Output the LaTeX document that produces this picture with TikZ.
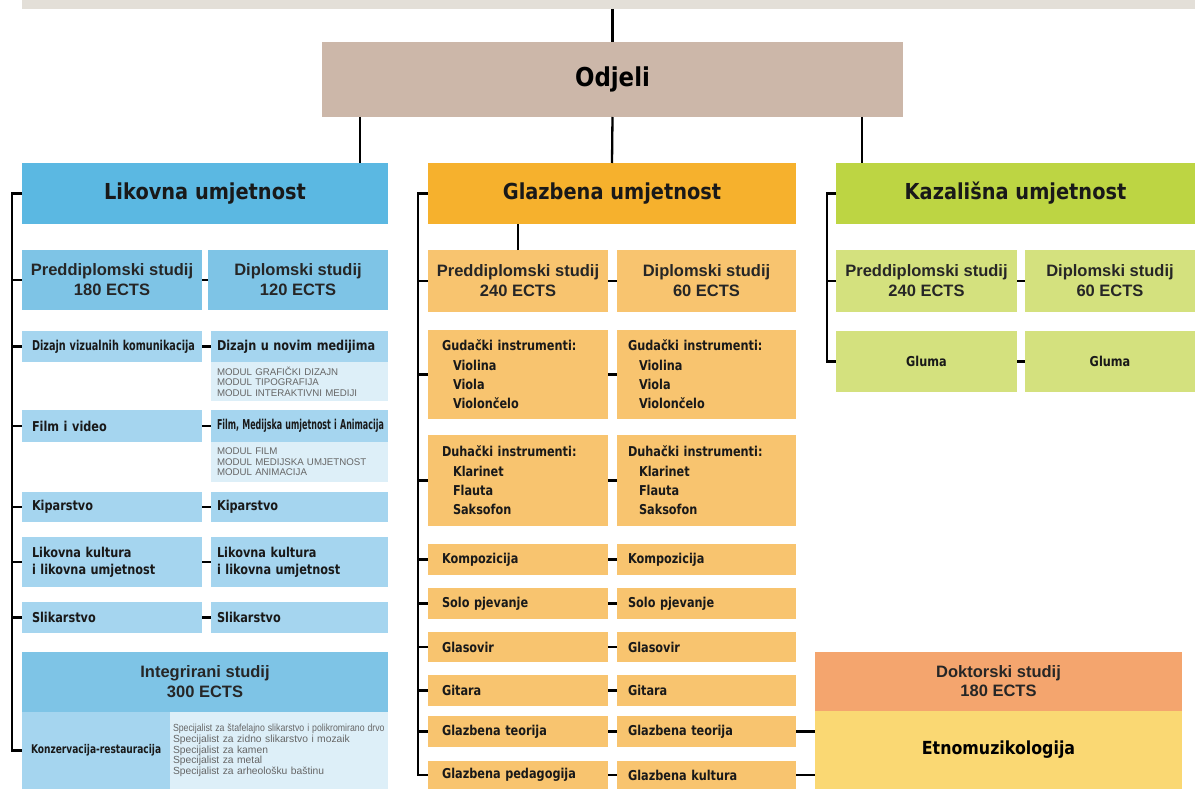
\documentclass[tikz,border=0pt]{standalone}
\usepackage{graphicx}
\usepackage{fontspec}
\setmainfont{Liberation Sans}
\newfontfamily\tah[FakeStretch=0.88]{DejaVu Sans}
\newfontfamily\tahn[FakeStretch=0.83]{DejaVu Sans}
\usetikzlibrary{calc}

\definecolor{topbar}{HTML}{E3DFD8}
\definecolor{odj}{HTML}{CCB7A9}
\definecolor{lhd}{HTML}{5BB8E2}
\definecolor{lsub}{HTML}{7EC4E6}
\definecolor{lrow}{HTML}{A5D5EF}
\definecolor{lmod}{HTML}{DDEFF8}
\definecolor{ghd}{HTML}{F6B12D}
\definecolor{gsub}{HTML}{F8C46F}
\definecolor{khd}{HTML}{BDD543}
\definecolor{ksub}{HTML}{D4E17E}
\definecolor{dok}{HTML}{F4A56E}
\definecolor{etn}{HTML}{FAD873}

\begin{document}
\begin{tikzpicture}[x=1pt,y=-1pt,
  box/.style={anchor=north west,inner sep=0pt,outer sep=0pt},
  head/.style={box,font=\tah\bfseries\fontsize{22}{24}\selectfont,text=black!90},
  ects/.style={box,align=center,font=\bfseries\fontsize{16.5}{20}\selectfont,text=black!85},
  item/.style={box,align=left,inner xsep=10pt,text width=160pt,font=\tahn\bfseries\fontsize{13.6}{17}\selectfont,text=black!90},
  small/.style={box,align=left,font=\fontsize{9.7}{10.5}\selectfont,text=black!60},
  lL/.style={item,fill=lrow},
  lR/.style={item,fill=lrow,inner xsep=6pt,text width=165pt},
  gL/.style={item,fill=gsub,inner xsep=14pt,text width=152pt},
  gR/.style={item,fill=gsub,inner xsep=11pt,text width=157pt},
  brk/.style={line width=2.3pt}]
\useasboundingbox (0,0) rectangle (1195,789);

% Odjeli
\node[box,fill=topbar,minimum width=1173,minimum height=9] (bar) at (22,0) {};
\node[box,fill=odj,minimum width=581,minimum height=75,font=\tah\bfseries\fontsize{26}{28}\selectfont] (odjeli) at (322,42) {Odjeli};
\node[head,fill=lhd,minimum width=366,minimum height=61] (lhead) at (22,163) {Likovna umjetnost};
\node[head,fill=ghd,minimum width=368,minimum height=61] (ghead) at (428,163) {Glazbena umjetnost};
\node[head,fill=khd,minimum width=359,minimum height=61] (khead) at (836,163) {Kazališna umjetnost};
\path (odjeli.south west) ++(38,0) coordinate (o1);
\path (odjeli.south east) ++(-41,0) coordinate (o3);
\draw[brk] (odjeli.north |- bar.south) -- (odjeli.north);
\draw[brk] (o1) -- (o1 |- lhead.north);
\draw[brk] (odjeli.south) -- (ghead.north);
\draw[brk] (o3) -- (o3 |- khead.north);

% Likovna umjetnost
\node[ects,fill=lsub,minimum width=180,minimum height=60] (lp) at (22,250) {Preddiplomski studij\\180 ECTS};
\node[ects,fill=lsub,minimum width=180,minimum height=60] (ld) at (208,250) {Diplomski studij\\120 ECTS};
\node[lL,minimum height=31] (l1a) at (22,331) {\scalebox{0.86}[1]{Dizajn vizualnih komunikacija}};
\node[lR,minimum height=31] (l1b) at (211,331) {Dizajn u novim medijima};
\node[small,fill=lmod,minimum height=39,inner xsep=6pt,text width=165pt] (l1m) at (211,362) {MODUL GRAFIČKI DIZAJN\\MODUL TIPOGRAFIJA\\MODUL INTERAKTIVNI MEDIJI};
\node[lL,minimum height=32] (l2a) at (22,410) {Film i video};
\node[lR,minimum height=32] (l2b) at (211,410) {\scalebox{0.705}[1]{Film, Medijska umjetnost i Animacija}};
\node[small,fill=lmod,minimum height=40,inner xsep=6pt,text width=165pt] (l2m) at (211,442) {MODUL FILM\\MODUL MEDIJSKA UMJETNOST\\MODUL ANIMACIJA};
\node[lL,minimum height=30] (l3a) at (22,492) {Kiparstvo};
\node[lR,minimum height=30] (l3b) at (211,492) {Kiparstvo};
\node[lL,minimum height=50] (l4a) at (22,537) {Likovna kultura\\i likovna umjetnost};
\node[lR,minimum height=50] (l4b) at (211,537) {Likovna kultura\\i likovna umjetnost};
\node[lL,minimum height=31] (l5a) at (22,602) {Slikarstvo};
\node[lR,minimum height=31] (l5b) at (211,602) {Slikarstvo};
\node[ects,fill=lsub,minimum width=366,minimum height=60] (li) at (22,652) {Integrirani studij\\300 ECTS};
\node[lL,minimum height=77,inner xsep=9pt,text width=130pt,font=\tahn\bfseries\fontsize{12}{14}\selectfont] (lk) at (22,712) {\mbox{\scalebox{0.91}[1]{Konzervacija-restauracija}}};
\node[small,fill=lmod,minimum height=77,inner xsep=3pt,text width=212pt,font=\fontsize{10.3}{10.7}\selectfont] (ls) at (170,712)
  {\scalebox{0.85}[1]{Specijalist za štafelajno slikarstvo i polikromirano drvo}\\Specijalist za zidno slikarstvo i mozaik\\Specijalist za kamen\\Specijalist za metal\\Specijalist za arheološku baštinu};

% Glazbena umjetnost
\node[ects,fill=gsub,minimum width=180,minimum height=62] (gp) at (428,250) {Preddiplomski studij\\240 ECTS};
\node[ects,fill=gsub,minimum width=179,minimum height=62] (gd) at (617,250) {Diplomski studij\\60 ECTS};
\node[gL,minimum height=89,font=\tahn\bfseries\fontsize{13.6}{19.3}\selectfont] (gg) at (428,330) {Gudački instrumenti:\\\hspace*{11pt}Violina\\\hspace*{11pt}Viola\\\hspace*{11pt}Violončelo};
\node[gR,minimum height=89,font=\tahn\bfseries\fontsize{13.6}{19.3}\selectfont] (ggd) at (617,330) {Gudački instrumenti:\\\hspace*{11pt}Violina\\\hspace*{11pt}Viola\\\hspace*{11pt}Violončelo};
\node[gL,minimum height=91,font=\tahn\bfseries\fontsize{13.6}{19.3}\selectfont] (gw) at (428,435) {Duhački instrumenti:\\\hspace*{11pt}Klarinet\\\hspace*{11pt}Flauta\\\hspace*{11pt}Saksofon};
\node[gR,minimum height=91,font=\tahn\bfseries\fontsize{13.6}{19.3}\selectfont] (gwd) at (617,435) {Duhački instrumenti:\\\hspace*{11pt}Klarinet\\\hspace*{11pt}Flauta\\\hspace*{11pt}Saksofon};
\foreach \n/\y/\h/\a/\b in {gk/544/31/Kompozicija/Kompozicija,gs/588/31/Solo pjevanje/Solo pjevanje,
    gl/632/30/Glasovir/Glasovir,gt/675/31/Gitara/Gitara,gth/716/31/Glazbena teorija/Glazbena teorija,
    gpe/761/28/Glazbena pedagogija/Glazbena kultura}{
  \node[gL,minimum height=\h] (\n a) at (428,\y) {\a};
  \node[gR,minimum height=\h] (\n b) at (617,\y) {\b};
  \draw[brk] (\n a.east) -- (\n b.west);
}
\draw[brk] (gp.north) -- (gp.north |- ghead.south);

% Kazalisna umjetnost
\node[ects,fill=ksub,minimum width=181,minimum height=62] (kp) at (836,250) {Preddiplomski studij\\240 ECTS};
\node[ects,fill=ksub,minimum width=170,minimum height=62] (kd) at (1025,250) {Diplomski studij\\60 ECTS};
\node[item,fill=ksub,align=center,text width=181pt,inner xsep=0pt,minimum height=61] (kg) at (836,331) {Gluma};
\node[item,fill=ksub,align=center,text width=170pt,inner xsep=0pt,minimum height=61] (kgd) at (1025,331) {Gluma};

% Doktorski studij
\node[ects,fill=dok,minimum width=367,minimum height=59,font=\bfseries\fontsize{16.5}{19}\selectfont] (dok) at (815,652) {Doktorski studij\\180 ECTS};
\node[box,fill=etn,minimum width=367,minimum height=78,font=\tah\bfseries\fontsize{18}{20}\selectfont] (etno) at (815,711) {Etnomuzikologija};
\draw[brk] (gthb.east) -- (gthb.east -| etno.west);
\draw[brk] (gpeb.east) -- (gpeb.east -| etno.west);

% brackets
\coordinate (lsp) at (12,0);
\coordinate (gsp) at (418,0);
\coordinate (ksp) at (827,0);
\draw[brk] (lhead.west) -- (lhead.west -| lsp) -- (lk.west -| lsp) -- (lk.west);
\draw[brk] (ghead.west) -- (ghead.west -| gsp) -- (gpea.west -| gsp) -- (gpea.west);
\draw[brk] (khead.west) -- (khead.west -| ksp) -- (kg.west -| ksp) -- (kg.west);
\foreach \n in {lp,l1a,l2a,l3a,l4a,l5a} \draw[brk] (\n.west -| lsp) -- (\n.west);
\foreach \n in {gp,gg,gw,gka,gsa,gla,gta,gtha} \draw[brk] (\n.west -| gsp) -- (\n.west);
\draw[brk] (kp.west -| ksp) -- (kp.west);
\foreach \a/\b in {lp/ld,l1a/l1b,l2a/l2b,l3a/l3b,l4a/l4b,l5a/l5b,gp/gd,gg/ggd,gw/gwd,kp/kd,kg/kgd}
  \draw[brk] (\a.east) -- (\b.west);
\end{tikzpicture}
\end{document}
